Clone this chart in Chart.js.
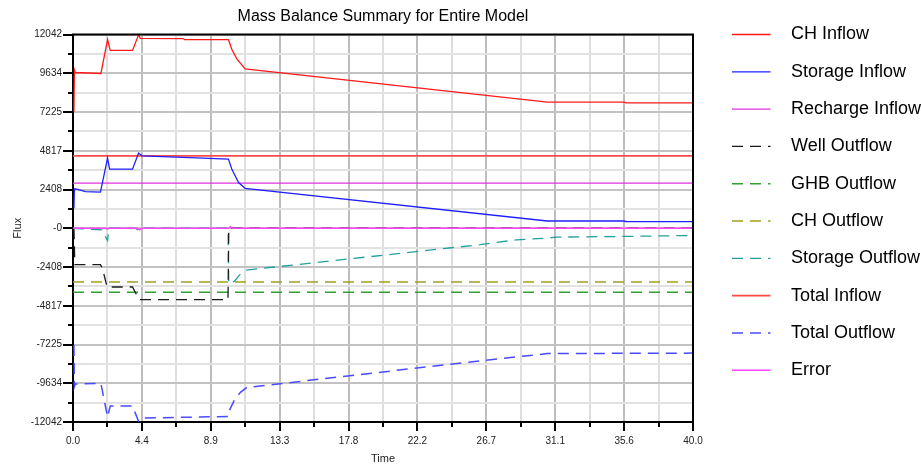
<!DOCTYPE html>
<html>
<head>
<meta charset="utf-8">
<title>Mass Balance Summary</title>
<script src="https://cdn.jsdelivr.net/npm/chart.js@4.4.1/dist/chart.umd.min.js"></script>
<style>
  html, body { margin: 0; padding: 0; background: #fff; }
  #wrap { width: 921px; height: 464px; }
</style>
</head>
<body>
<div id="wrap"><canvas id="massChart" width="921" height="464"></canvas></div>
<script>
// axis ranges and tick labels
const timeMax = 40;
const fluxMax = 12042;
const xTickLabels = ['0.0', '4.4', '8.9', '13.3', '17.8', '22.2', '26.7', '31.1', '35.6', '40.0'];
const yTickLabels = ['-12042', '-9634', '-7225', '-4817', '-2408', '-0', '2408', '4817', '7225', '9634', '12042'];

// budget terms: time (T) and flux (Q)
const chInflowT = [0.06, 0.09, 0.15, 1.8, 2.23, 2.4, 3.84, 4.23, 4.34, 7.1, 7.2, 10.03, 10.25, 10.57, 11.1, 30.6, 35.5, 35.7, 40];
const chInflowQ = [7250, 9850, 9680, 9620, 11730, 11050, 11050, 12020, 11800, 11790, 11720, 11720, 11110, 10530, 9910, 7840, 7840, 7800, 7790];

const storageInflowT = [0.06, 0.09, 0.25, 0.8, 1.77, 2.23, 2.36, 3.84, 4.23, 4.45, 8.0, 10.03, 10.25, 10.68, 11.1, 30.6, 35.5, 35.7, 40];
const storageInflowQ = [1250, 2450, 2430, 2280, 2250, 4360, 3670, 3670, 4670, 4500, 4380, 4300, 3660, 2840, 2480, 450, 450, 420, 410];

const rechargeInflowT = [0, 40];
const rechargeInflowQ = [2806, 2806];

const wellOutflowT = [0.06, 0.12, 1.77, 1.9, 2.2, 3.84, 4.27, 10.0, 10.05, 40];
const wellOutflowQ = [0, -2265, -2265, -2500, -3650, -3650, -4440, -4440, 0, 0];

const ghbOutflowT = [0, 40];
const ghbOutflowQ = [-3972, -3972];

const chOutflowT = [0, 40];
const chOutflowQ = [-3340, -3340];

const storageOutflowT = [0, 1.85, 2.23, 2.3, 4.0, 4.3, 4.45, 10.0, 10.05, 10.4, 10.8, 11.2, 26.26, 28.6, 30.6, 31.2, 35.5, 40];
const storageOutflowQ = [0, -100, -760, 0, 0, -150, 0, 0, -3450, -3300, -2850, -2600, -1020, -720, -610, -550, -510, -450];

const totalInflowT = [0, 40];
const totalInflowQ = [4500, 4500];

const totalOutflowT = [0.06, 0.09, 0.15, 1.8, 2.23, 2.4, 3.84, 4.23, 4.45, 7.1, 10.03, 10.1, 10.4, 10.8, 11.2, 26.26, 30.6, 40];
const totalOutflowQ = [-7250, -9850, -9680, -9650, -11730, -11050, -11050, -12000, -11800, -11750, -11700, -11300, -10700, -10200, -9900, -8240, -7790, -7760];

const errorT = [0, 2.1, 2.23, 2.35, 4.15, 4.3, 4.45, 10.05, 10.15, 10.3, 40];
const errorQ = [0, 0, -40, 0, 0, -100, 0, 0, 90, 0, 0];

const fontFamily = '"Liberation Sans", Arial, sans-serif';
const dash = [11, 7];

function points(t, q) {
    return t.map((v, i) => ({ x: v, y: q[i] }));
}

// major ticks carry a label, minor ticks sit halfway between them
const xTicks = [];
const xSteps = 2 * (xTickLabels.length - 1);
for (let i = 0; i <= xSteps; i++) xTicks.push(timeMax * i / xSteps);
const yTicks = [];
const ySteps = 2 * (yTickLabels.length - 1);
for (let i = 0; i <= ySteps; i++) yTicks.push(-fluxMax + 2 * fluxMax * i / ySteps);

// top/right frame, tick marks and the legend column
const frameAndLegend = {
    id: 'frameAndLegend',
    afterDraw(chart) {
        const { ctx, chartArea: a, scales: { x, y } } = chart;
        ctx.save();
        ctx.strokeStyle = '#000';
        ctx.lineWidth = 2;
        ctx.beginPath();
        ctx.moveTo(a.left - 1, a.top);
        ctx.lineTo(a.right, a.top);
        ctx.lineTo(a.right, a.bottom);
        ctx.stroke();

        x.ticks.forEach((t, i) => {
            const px = Math.round(x.getPixelForValue(t.value));
            ctx.beginPath();
            ctx.moveTo(px, a.bottom);
            ctx.lineTo(px, a.bottom + (i % 2 ? 5 : 9));
            ctx.stroke();
        });
        y.ticks.forEach((t, i) => {
            const py = Math.round(y.getPixelForValue(t.value));
            ctx.beginPath();
            ctx.moveTo(a.left, py);
            ctx.lineTo(a.left - (i % 2 ? 5 : 10), py);
            ctx.stroke();
        });

        ctx.font = '18px ' + fontFamily;
        ctx.textBaseline = 'middle';
        ctx.textAlign = 'left';
        chart.data.datasets.forEach((ds, i) => {
            const ly = 34.5 + i * 37.3;
            ctx.strokeStyle = ds.borderColor;
            ctx.lineWidth = ds.borderWidth;
            ctx.setLineDash(ds.borderDash || []);
            ctx.beginPath();
            ctx.moveTo(732, ly);
            ctx.lineTo(770.5, ly);
            ctx.stroke();
            ctx.setLineDash([]);
            ctx.fillStyle = '#000';
            ctx.fillText(ds.label, 791, ly);
        });
        ctx.restore();
    }
};

var ctx = document.getElementById('massChart').getContext('2d');
var massChart = new Chart(ctx, {
    type: 'line',
    data: {
        datasets: [{
            label: 'CH Inflow',
            data: points(chInflowT, chInflowQ),
            borderColor: '#ff1a1a',
            borderWidth: 1.3
        },
        {
            label: 'Storage Inflow',
            data: points(storageInflowT, storageInflowQ),
            borderColor: '#2020ff',
            borderWidth: 1.3
        },
        {
            label: 'Recharge Inflow',
            data: points(rechargeInflowT, rechargeInflowQ),
            borderColor: '#e030e0',
            borderWidth: 1.3
        },
        {
            label: 'Well Outflow',
            data: points(wellOutflowT, wellOutflowQ),
            borderColor: '#1a1a1a',
            borderWidth: 1.3,
            borderDash: dash
        },
        {
            label: 'GHB Outflow',
            data: points(ghbOutflowT, ghbOutflowQ),
            borderColor: '#30a030',
            borderWidth: 1.5,
            borderDash: dash
        },
        {
            label: 'CH Outflow',
            data: points(chOutflowT, chOutflowQ),
            borderColor: '#a0a020',
            borderWidth: 1.3,
            borderDash: dash
        },
        {
            label: 'Storage Outflow',
            data: points(storageOutflowT, storageOutflowQ),
            borderColor: '#20a0a0',
            borderWidth: 1.3,
            borderDash: dash
        },
        {
            label: 'Total Inflow',
            data: points(totalInflowT, totalInflowQ),
            borderColor: '#ff4a4a',
            borderWidth: 1.8
        },
        {
            label: 'Total Outflow',
            data: points(totalOutflowT, totalOutflowQ),
            borderColor: '#4a4aff',
            borderWidth: 1.5,
            borderDash: dash
        },
        {
            label: 'Error',
            data: points(errorT, errorQ),
            borderColor: '#ff44ff',
            borderWidth: 1.5,
            order: -1
        }]
    },
    options: {
        responsive: false,
        animation: false,
        events: [],
        elements: {
            point: { radius: 0 },
            line: { tension: 0, fill: false }
        },
        layout: {
            padding: { left: 0, right: 228, top: 0, bottom: 0 }
        },
        scales: {
            x: {
                type: 'linear',
                min: 0,
                max: timeMax,
                afterBuildTicks: scale => { scale.ticks = xTicks.map(v => ({ value: v })); },
                afterFit: scale => { scale.height = 42; },
                grid: {
                    drawTicks: false,
                    lineWidth: 2,
                    color: c => (c.index % 2 ? '#dedede' : '#bdbdbd')
                },
                border: { color: '#000', width: 2 },
                ticks: {
                    autoSkip: false,
                    maxRotation: 0,
                    padding: 13,
                    color: '#222',
                    font: { size: 10, family: fontFamily },
                    callback: (v, i) => (i % 2 ? '' : xTickLabels[i / 2])
                },
                title: {
                    display: true,
                    text: 'Time',
                    color: '#222',
                    font: { size: 11, family: fontFamily },
                    padding: { top: 0, bottom: -1.5 }
                }
            },
            y: {
                type: 'linear',
                min: -fluxMax,
                max: fluxMax,
                afterBuildTicks: scale => { scale.ticks = yTicks.map(v => ({ value: v })); },
                afterFit: scale => { scale.width = 73; },
                grid: {
                    drawTicks: false,
                    lineWidth: 2,
                    color: c => (c.index % 2 ? '#e2e2e2' : '#c2c2c2')
                },
                border: { color: '#000', width: 2 },
                ticks: {
                    autoSkip: false,
                    padding: 11,
                    color: '#222',
                    font: { size: 10, family: fontFamily },
                    callback: (v, i) => (i % 2 ? '' : yTickLabels[i / 2])
                },
                title: {
                    display: true,
                    text: 'Flux',
                    color: '#222',
                    font: { size: 11, family: fontFamily },
                    padding: { top: 11, bottom: 0 }
                }
            }
        },
        plugins: {
            legend: { display: false },
            tooltip: { enabled: false },
            title: {
                display: true,
                text: 'Mass Balance Summary for Entire Model',
                fullSize: false,
                color: '#000',
                font: { size: 16, weight: 'normal', family: fontFamily },
                padding: { top: 7.4, bottom: 7.9 }
            }
        }
    },
    plugins: [frameAndLegend]
});
</script>
</body>
</html>
